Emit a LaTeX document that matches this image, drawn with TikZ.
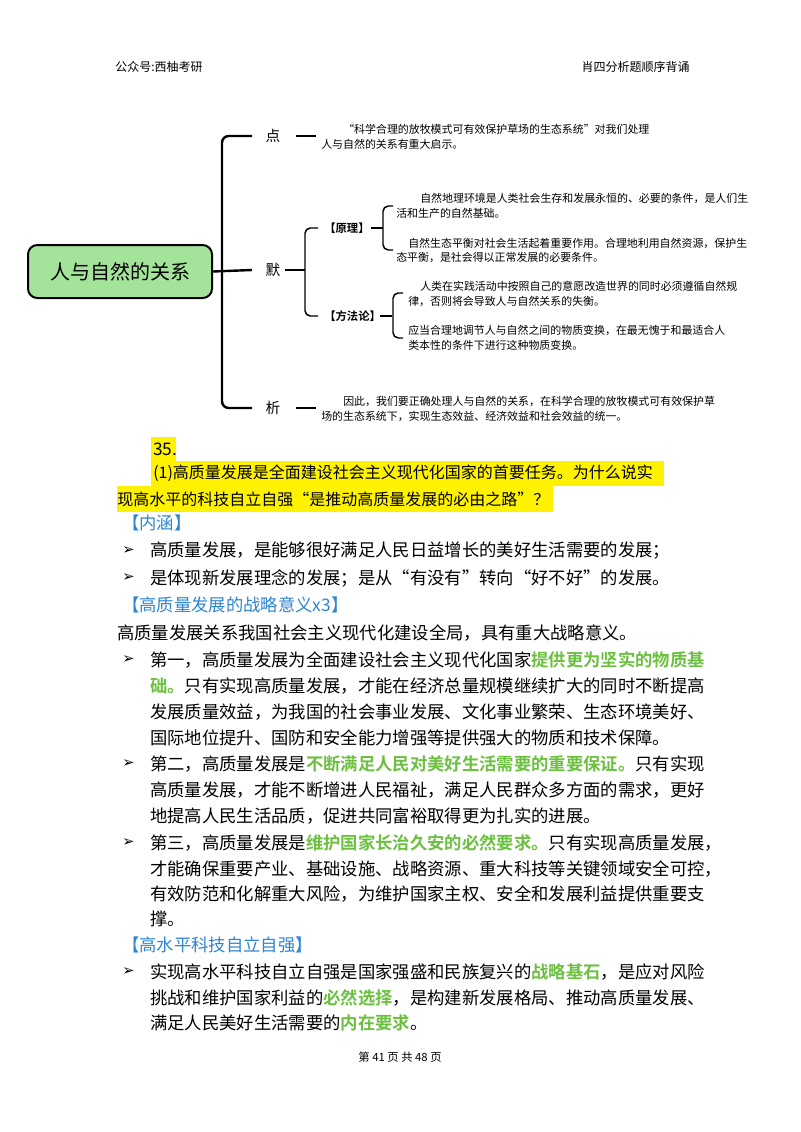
\documentclass[tikz,border=0pt]{standalone}
\usepackage{fontspec}
\setmainfont{Noto Sans CJK SC}[BoldFont={Noto Sans CJK SC Bold}]
\newfontfamily\dejavu{DejaVu Sans}
\XeTeXlinebreaklocale "zh"
\XeTeXlinebreakskip=0pt plus 1fil
\definecolor{hlblue}{HTML}{2E86D0}
\definecolor{hlgreen}{HTML}{6CC040}
\definecolor{rootfill}{HTML}{A3E39A}
\newlength\pxu \setlength\pxu{0.75pt}
\newcommand\jl[1]{\hbox to 515\pxu{#1}}
\newcommand\gr[1]{{\color{hlgreen}\bfseries #1}}
\tikzset{
 txt/.style={anchor=west,inner sep=0pt,font=\fontsize{13pt}{15pt}\selectfont},
 sm/.style={anchor=west,inner sep=0pt,font=\fontsize{8.2pt}{10pt}\selectfont},
 lbl/.style={inner sep=1pt,font=\fontsize{11pt}{13pt}\selectfont},
 brk/.style={line width=1.8pt,rounded corners=5pt},
 sbrk/.style={line width=1.1pt,rounded corners=4pt},
 blt/.style={anchor=west,inner sep=0pt,font=\dejavu\bfseries\fontsize{11pt}{13pt}\selectfont},
 hl/.style={fill=yellow,draw=none}
}
\begin{document}
\begin{tikzpicture}[x=0.75pt,y=-0.75pt]
\useasboundingbox (0,0) rectangle (800,1132);
\fill[white] (0,0) rectangle (800,1132);
% header
\node[sm,font=\fontsize{9pt}{11pt}\selectfont] (h1) at (115,67) {公众号:西柚考研};
\node[anchor=east,inner sep=0pt,font=\fontsize{9pt}{11pt}\selectfont] (h2) at (690,67) {肖四分析题顺序背诵};
% root
\node[draw,line width=1.5pt,fill=rootfill,rounded corners=7pt,minimum width=184\pxu,minimum height=53\pxu,font=\fontsize{15pt}{17pt}\selectfont] (root) at (120,271.5) {人与自然的关系};
\node[lbl] (dian) at (273,136) {点};
\node[lbl] (mo) at (273,270) {默};
\node[lbl] (xi) at (273,408) {析};
\coordinate (mL) at (252,270);
\draw[brk] (252,136) -- (222,136) -- (222,408) -- (252,408);
\draw[line width=1.8pt] (root.east) -- (mL);
\draw[line width=1.8pt] (296,136) -- (316,136);
\draw[line width=1.8pt] (296,408) -- (316,408);
% dian text
\node[sm] (t1) at (343,129) {“科学合理的放牧模式可有效保护草场的生态系统”对我们处理};
\node[sm] (t2) at (321,144) {人与自然的关系有重大启示。};
% mo
\draw[line width=1.3pt] (mo.east) ++(3,0) -- (305,270);
\draw[sbrk] (318,228) -- (305,228) -- (305,316) -- (318,316);
\node[sm,font=\fontsize{8.5pt}{10pt}\selectfont\bfseries] (yl) at (324,228) {【原理】};
\node[sm,font=\fontsize{8.5pt}{10pt}\selectfont\bfseries] (ff) at (324,316) {【方法论】};
\draw[line width=1.1pt] (371,228) -- (383,228);
\draw[sbrk] (393,206) -- (383,206) -- (383,250) -- (393,250);
\draw[line width=1.1pt] (380,316) -- (392,316);
\draw[sbrk] (403,293) -- (393,293) -- (393,338) -- (403,338);
\node[sm] (a1) at (420,198) {自然地理环境是人类社会生存和发展永恒的、必要的条件，是人们生};
\node[sm] (a2) at (396,213) {活和生产的自然基础。};
\node[sm] (a3) at (408,243) {自然生态平衡对社会生活起着重要作用。合理地利用自然资源，保护生};
\node[sm] (a4) at (396,257) {态平衡，是社会得以正常发展的必要条件。};
\node[sm] (b1) at (420,286) {人类在实践活动中按照自己的意愿改造世界的同时必须遵循自然规};
\node[sm] (b2) at (408,301) {律，否则将会导致人与自然关系的失衡。};
\node[sm] (b3) at (408,330) {应当合理地调节人与自然之间的物质变换，在最无愧于和最适合人};
\node[sm] (b4) at (408,345) {类本性的条件下进行这种物质变换。};
\node[sm] (c1) at (343,401) {因此，我们要正确处理人与自然的关系，在科学合理的放牧模式可有效保护草};
\node[sm] (c2) at (321,416) {场的生态系统下，实现生态效益、经济效益和社会效益的统一。};
% question
\fill[yellow] (151,437) rectangle (176,461);
\fill[yellow] (151,461) rectangle (664,486);
\fill[yellow] (117,486) rectangle (553,512);
\node[txt] (q0) at (153,449) {35.};
\node[txt,font=\fontsize{12pt}{14pt}\selectfont] (q1) at (153,473) {\hbox to 508\pxu{(1)高质量发展是全面建设社会主义现代化国家的首要任务。为什么说实}};
\node[txt,font=\fontsize{12pt}{14pt}\selectfont] (q2) at (117,499) {\hbox to 436\pxu{现高水平的科技自立自强“是推动高质量发展的必由之路”？}};
% neihan
\node[txt,text=hlblue] (nh) at (122,523) {【内涵】};
\node[blt] (p1) at (122,551) {➢};
\node[txt] (l1) at (150,551) {高质量发展，是能够很好满足人民日益增长的美好生活需要的发展；};
\node[blt] (p2) at (122,578) {➢};
\node[txt] (l2) at (150,578) {是体现新发展理念的发展；是从“有没有”转向“好不好”的发展。};
\node[txt,text=hlblue] (zl) at (122,605) {【高质量发展的战略意义x3】};
\node[txt] (l3) at (117,633) {高质量发展关系我国社会主义现代化建设全局，具有重大战略意义。};
% item 1
\node[blt] (p3) at (122,660) {➢};
\node[txt] (i11) at (150,660) {\jl{第一，高质量发展为全面建设社会主义现代化国家\gr{提供更为坚实的物质基}}};
\node[txt] (i12) at (150,686) {\jl{\gr{础。}只有实现高质量发展，才能在经济总量规模继续扩大的同时不断提高}};
\node[txt] (i13) at (150,712) {\jl{发展质量效益，为我国的社会事业发展、文化事业繁荣、生态环境美好、}};
\node[txt] (i14) at (150,738) {国际地位提升、国防和安全能力增强等提供强大的物质和技术保障。};
% item 2
\node[blt] (p4) at (122,764) {➢};
\node[txt] (i21) at (150,764) {\jl{第二，高质量发展是\gr{不断满足人民对美好生活需要的重要保证。}只有实现}};
\node[txt] (i22) at (150,790) {\jl{高质量发展，才能不断增进人民福祉，满足人民群众多方面的需求，更好}};
\node[txt] (i23) at (150,816) {地提高人民生活品质，促进共同富裕取得更为扎实的进展。};
% item 3
\node[blt] (p5) at (122,843) {➢};
\node[txt] (i31) at (150,843) {\jl{第三，高质量发展是\gr{维护国家长治久安的必然要求。}只有实现高质量发展，}};
\node[txt] (i32) at (150,869) {\jl{才能确保重要产业、基础设施、战略资源、重大科技等关键领域安全可控，}};
\node[txt] (i33) at (150,894) {\jl{有效防范和化解重大风险，为维护国家主权、安全和发展利益提供重要支}};
\node[txt] (i34) at (150,919) {撑。};
% gaoshuiping
\node[txt,text=hlblue] (gs) at (122,945) {【高水平科技自立自强】};
\node[blt] (p6) at (122,972) {➢};
\node[txt] (i41) at (150,972) {\jl{实现高水平科技自立自强是国家强盛和民族复兴的\gr{战略基石}，是应对风险}};
\node[txt] (i42) at (150,998) {\jl{挑战和维护国家利益的\gr{必然选择}，是构建新发展格局、推动高质量发展、}};
\node[txt] (i43) at (150,1023) {满足人民美好生活需要的\gr{内在要求}。};
% footer
\node[inner sep=0pt,font=\fontsize{8.5pt}{10pt}\selectfont] (ft) at (400,1057) {第 41 页 共 48 页};
\end{tikzpicture}
\end{document}
